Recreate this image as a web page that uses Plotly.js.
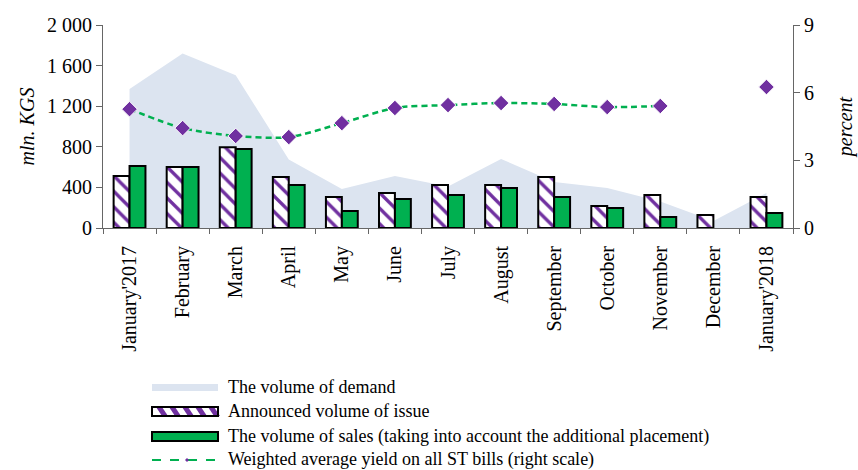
<!DOCTYPE html>
<html>
<head>
<meta charset="utf-8">
<script src="https://cdn.plot.ly/plotly-3.0.1.min.js"></script>
<style>html,body{margin:0;padding:0;background:#fff;}#chart{width:858px;height:470px;}</style>
</head>
<body>
<div id="chart"></div>
<script>
const months = ["January'2017","February","March","April","May","June","July","August","September","October","November","December","January'2018"];
const demand = [1370, 1720, 1505, 675, 385, 512, 410, 680, 453, 394, 260, 70, 345];
const announced = [512, 601, 795, 502, 305, 345, 424, 424, 502, 217, 325, 128, 305];
const sales = [611, 601, 778, 424, 167, 286, 325, 394, 305, 197, 108, null, 148];
const yieldPct = [5.27, 4.43, 4.08, 4.03, 4.65, 5.32, 5.45, 5.54, 5.5, 5.36, 5.41, null, 6.25];
const leftTicks = [0, 400, 800, 1200, 1600, 2000];
const leftTickText = ["0", "400", "800", "1 200", "1 600", "2 000"];
const rightTicks = [0, 3, 6, 9];
const legendNames = [
  'The volume of demand',
  'Announced volume of issue',
  'The volume of sales (taking into account the additional placement)',
  'Weighted average yield on all ST bills (right scale)'
];

const F = "Liberation Serif, Times New Roman, serif";
const W = 858, H = 470, ML = 103, MR = 65, MT = 25, MB = 242;
const PW = W - ML - MR, PH = H - MT - MB;
// pixel -> paper helpers (for the hand-drawn legend only)
const px = x => (x - ML) / PW;
const py = y => (H - MB - y) / PH;

const traces = [
  {type:'scatter', x:months, y:demand, yaxis:'y', mode:'none', fill:'tozeroy', fillcolor:'#DCE4F0',
   name:legendNames[0], hoverinfo:'skip'},
  {type:'bar', x:months, y:announced, yaxis:'y2', name:legendNames[1],
   marker:{color:'#ffffff', line:{color:'#000', width:2},
     pattern:{shape:'\\', fgcolor:'#7030A0', bgcolor:'#ffffff', size:11, solidity:0.3}}},
  {type:'bar', x:months, y:sales, yaxis:'y2', name:legendNames[2],
   marker:{color:'#00B050', line:{color:'#000', width:2}}},
  {type:'scatter', x:months, y:yieldPct, yaxis:'y3', mode:'lines+markers',
   name:legendNames[3],
   line:{color:'#00B050', width:2.5, dash:'6px,4px', shape:'spline', smoothing:0.8},
   marker:{symbol:'diamond', size:12, color:'#7030A0', line:{color:'#fff', width:1}},
   connectgaps:false}
];

// hand-drawn legend
const shapes = [];
const annotations = [];
const lx0 = 152, lx1 = 218, tx = 226;
const rows = [387, 411, 436, 459];
// demand
shapes.push({type:'rect', xref:'paper', yref:'paper', x0:px(lx0), x1:px(lx1), y0:py(391), y1:py(384),
  fillcolor:'#DCE4F0', line:{width:0}});
// announced: white rect with purple stripes and black border
shapes.push({type:'rect', xref:'paper', yref:'paper', x0:px(lx0), x1:px(lx1), y0:py(416), y1:py(407),
  fillcolor:'#ffffff', line:{width:0}});
for (let s = lx0 + 4; s < lx1 - 6; s += 13) {
  shapes.push({type:'path', xref:'paper', yref:'paper',
    path:`M${px(s)},${py(407)} L${px(s+6)},${py(407)} L${px(s+12)},${py(416)} L${px(s+6)},${py(416)} Z`,
    fillcolor:'#7030A0', line:{width:0}});
}
shapes.push({type:'rect', xref:'paper', yref:'paper', x0:px(lx0), x1:px(lx1), y0:py(416), y1:py(407),
  fillcolor:'rgba(0,0,0,0)', line:{color:'#000', width:2}});
// sales
shapes.push({type:'rect', xref:'paper', yref:'paper', x0:px(lx0), x1:px(lx1), y0:py(441), y1:py(432),
  fillcolor:'#00B050', line:{color:'#000', width:2}});
// yield line
shapes.push({type:'line', xref:'paper', yref:'paper', x0:px(lx0), x1:px(lx1), y0:py(460), y1:py(460),
  line:{color:'#00B050', width:2, dash:'dash'}});
shapes.push({type:'path', xref:'paper', yref:'paper',
  path:`M${px(185)},${py(460)} L${px(187)},${py(458)} L${px(189)},${py(460)} L${px(187)},${py(462)} Z`,
  fillcolor:'#7030A0', line:{width:0}});
legendNames.forEach((t, i) => {
  annotations.push({xref:'paper', yref:'paper', x:px(tx), y:py(rows[i]), xanchor:'left', yanchor:'middle',
    text:t, showarrow:false, font:{family:F, size:18, color:'#000'}});
});

const axCommon = {showline:true, linecolor:'#666', linewidth:1, ticks:'outside', ticklen:6, tickcolor:'#666',
  showgrid:false, zeroline:false};

const layout = {
  width:W, height:H,
  margin:{l:ML, r:MR, t:MT, b:MB, autoexpand:false},
  paper_bgcolor:'#fff', plot_bgcolor:'rgba(0,0,0,0)',
  font:{family:F, size:17, color:'#000'},
  barmode:'group', bargap:0.4, bargroupgap:0,
  showlegend:false,
  shapes:shapes, annotations:annotations,
  xaxis:{type:'category', tickangle:-90, tickfont:{family:F, size:20},
    showline:true, linecolor:'#666', linewidth:1, ticks:'outside', tickson:'boundaries',
    ticklen:5, tickcolor:'#666', showgrid:false, zeroline:false, range:[-0.5, 12.5],
    ticklabelstandoff:9, automargin:false},
  yaxis:Object.assign({}, axCommon, {range:[0,2000], tickvals:leftTicks, ticktext:leftTickText,
    tickfont:{family:F, size:20}, automargin:false,
    title:{text:'<i>mln. KGS</i>', font:{family:F, size:20}, standoff:7}}),
  yaxis2:{overlaying:'y', range:[0,2000], visible:false, showgrid:false, zeroline:false},
  yaxis3:Object.assign({}, axCommon, {overlaying:'y', side:'right', anchor:'x', range:[0,9], tickvals:rightTicks,
    tickfont:{family:F, size:20}, automargin:false,
    title:{text:'<i>percent</i>', font:{family:F, size:20}, standoff:24}})
};

Plotly.newPlot('chart', traces, layout, {displayModeBar:false, staticPlot:true});
</script>
</body>
</html>
